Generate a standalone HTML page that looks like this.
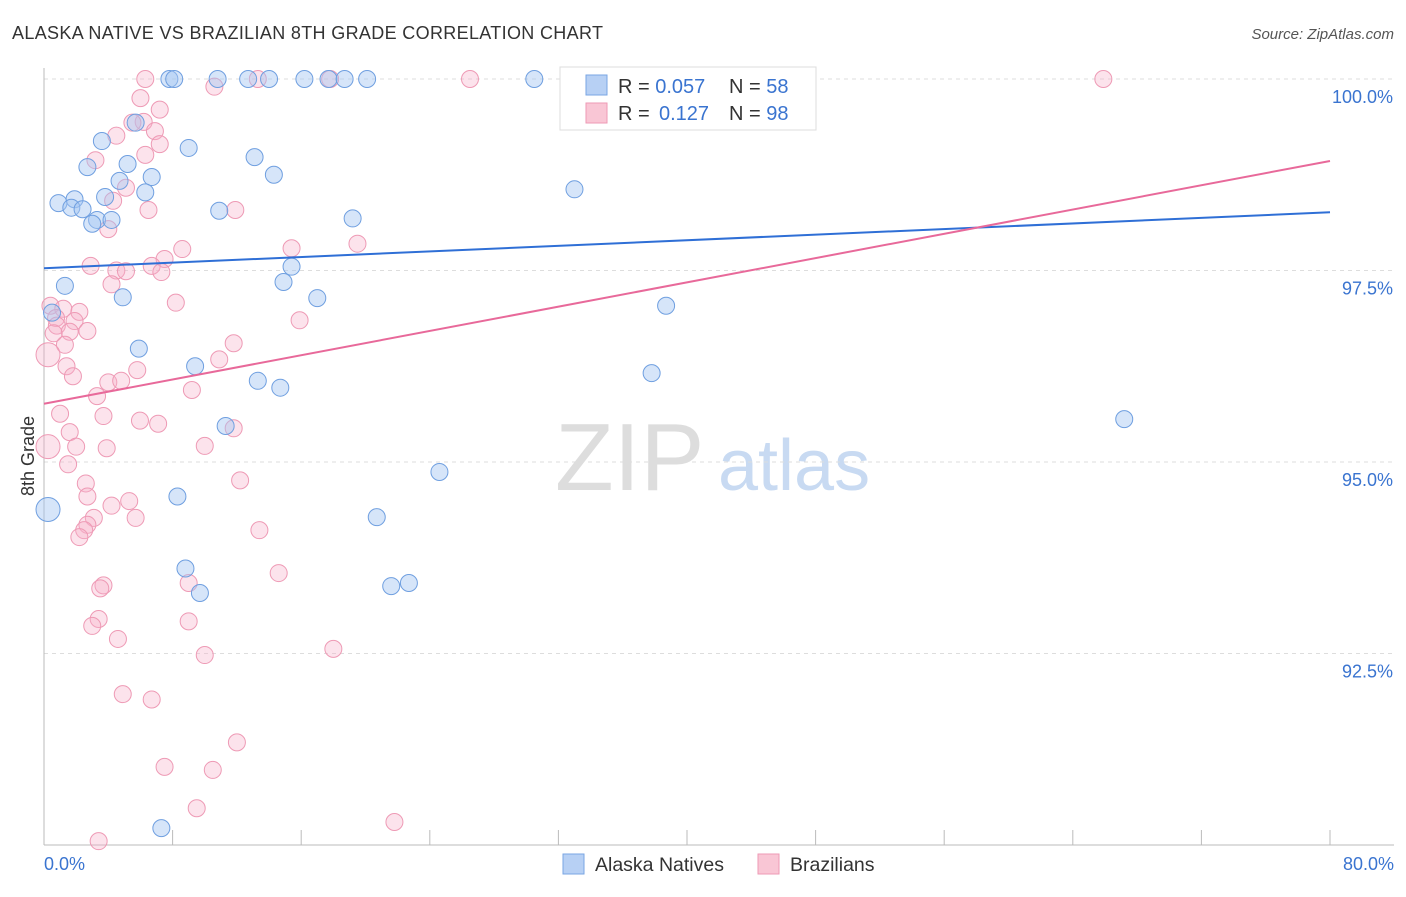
<!DOCTYPE html>
<html><head><meta charset="utf-8"><style>
body{margin:0;background:#fff;font-family:"Liberation Sans",sans-serif}
svg text{font-family:"Liberation Sans",sans-serif}
</style></head><body>
<svg id="c" width="1406" height="892" xmlns="http://www.w3.org/2000/svg">
<text x="12" y="39" font-size="18" fill="#333" textLength="591">ALASKA NATIVE VS BRAZILIAN 8TH GRADE CORRELATION CHART</text>
<text x="1394" y="39" font-size="15" fill="#555" font-style="italic" text-anchor="end">Source: ZipAtlas.com</text>
<text x="34" y="456" font-size="18" fill="#333" transform="rotate(-90 34 456)" text-anchor="middle">8th Grade</text>
<text x="555" y="490" font-size="96" fill="#ddd" font-family="Liberation Serif">ZIP</text>
<text x="718" y="490" font-size="72" fill="#c8daf2">atlas</text>
<g id="grid"></g><g id="marks"></g><g id="trends"></g>
<g>
<rect x="560" y="67" width="256" height="63" fill="#fff" stroke="#ddd"/>
<rect x="586" y="75" width="21" height="20" fill="#b7d0f4" stroke="#7aa6e3"/>
<rect x="586" y="103" width="21" height="20" fill="#f9c6d5" stroke="#ee9ab5"/>
<text x="618" y="93" font-size="20" fill="#333">R = <tspan fill="#3a74d0">0.057</tspan><tspan x="729">N = </tspan><tspan fill="#3a74d0">58</tspan></text>
<text x="618" y="120" font-size="20" fill="#333">R = <tspan x="659" fill="#3a74d0">0.127</tspan><tspan x="729">N = </tspan><tspan fill="#3a74d0">98</tspan></text>
</g>
<g>
<rect x="563" y="854" width="21" height="20" fill="#b7d0f4" stroke="#7aa6e3"/>
<text x="595" y="871" font-size="19.5" fill="#333">Alaska Natives</text>
<rect x="758" y="854" width="21" height="20" fill="#f9c6d5" stroke="#ee9ab5"/>
<text x="790" y="871" font-size="19.5" fill="#333">Brazilians</text>
</g>
</svg>
<script>
const yTicks=[100,97.5,95,92.5];
const yTickLabels=["100.0%","97.5%","95.0%","92.5%"];
const xTickLabels=["0.0%","80.0%"];
const blueX=[7.8,8.1,10.8,12.7,14.0,16.2,17.7,18.7,20.1,30.5,41.6,45.0,3.6,5.7,9.0,13.1,2.7,5.2,6.7,4.7,6.3,3.8,1.9,0.9,1.7,2.4,3.3,4.2,3.0,10.9,14.3,19.2,33.0,15.4,14.9,17.0,1.3,4.9,0.5,5.9,9.4,13.3,14.7,11.3,38.7,37.8,67.2,24.6,8.3,0.25,20.7,8.8,9.7,21.6,22.7,7.3];
const blueY=[100,100,100,100,100,100,100,100,100,100,100,100,99.19,99.43,99.1,98.98,98.85,98.89,98.72,98.67,98.52,98.46,98.43,98.38,98.32,98.30,98.16,98.16,98.11,98.28,98.75,98.18,98.56,97.55,97.35,97.14,97.3,97.15,96.95,96.48,96.25,96.06,95.97,95.47,97.04,96.16,95.56,94.87,94.55,94.38,94.28,93.61,93.29,93.38,93.42,90.22];
const pinkX=[6.3,13.3,17.8,26.5,65.9,10.6,6.0,7.2,6.2,5.5,6.9,4.5,7.2,6.3,3.2,5.1,4.3,6.5,11.9,4.0,8.6,15.4,19.5,7.5,2.9,6.7,4.5,5.1,7.3,4.2,8.2,0.4,1.2,2.2,0.75,1.9,15.9,0.8,2.7,1.6,0.6,1.3,11.8,0.25,1.4,5.8,10.9,1.8,4.0,4.8,3.3,9.2,1.0,3.7,5.97,7.1,11.8,1.6,0.25,2.0,3.9,10.0,1.5,12.2,2.6,2.7,5.3,4.2,3.1,5.7,2.7,2.5,13.4,2.2,14.6,9.0,3.7,3.5,3.4,3.0,9.0,4.6,18.0,10.0,4.9,6.7,12.0,7.5,10.5,9.5,21.8,3.4];
const pinkY=[100,100,100,100,100,99.9,99.75,99.6,99.44,99.43,99.32,99.26,99.15,99.01,98.94,98.58,98.41,98.29,98.29,98.04,97.78,97.79,97.85,97.65,97.56,97.56,97.5,97.49,97.48,97.32,97.08,97.04,97.0,96.96,96.88,96.84,96.85,96.78,96.71,96.7,96.68,96.53,96.55,96.4,96.25,96.2,96.34,96.12,96.04,96.06,95.86,95.94,95.63,95.6,95.54,95.5,95.44,95.39,95.2,95.2,95.18,95.21,94.97,94.76,94.72,94.55,94.49,94.43,94.27,94.27,94.18,94.11,94.11,94.02,93.55,93.42,93.39,93.35,92.95,92.86,92.92,92.69,92.56,92.48,91.97,91.9,91.34,91.02,90.98,90.48,90.3,90.05];
const blueTrend=[97.53,98.26];
const pinkTrend=[95.76,98.93];
const NS="http://www.w3.org/2000/svg";
const X0=44,X1=1330,Y100=79,PXPER=76.6;
function sx(v){return X0+(v/80)*(X1-X0);}
function sy(v){return Y100+(100-v)*PXPER;}
function mk(tag,attrs,parent){const e=document.createElementNS(NS,tag);for(const k in attrs)e.setAttribute(k,attrs[k]);parent.appendChild(e);return e;}
const grid=document.getElementById('grid');
yTicks.forEach((t,i)=>{
 const l=mk('line',{x1:X0,x2:1394,y1:sy(t),y2:sy(t),stroke:'#ddd','stroke-dasharray':'4,4'},grid);
 
 
 const tx=mk('text',{x:1393,y:sy(t)+24,'font-size':18,fill:'#3a74d0','text-anchor':'end'},grid);
 tx.textContent=yTickLabels[i];
 
 
});
const ya=mk('line',{x1:X0,x2:X0,y1:68,y2:845,stroke:'#bbb'},grid);


const xa=mk('line',{x1:X0,x2:1394,y1:845,y2:845,stroke:'#bbb'},grid);


for(let i=0;i<=10;i++){const v=i*8;const t=mk('line',{x1:sx(v),x2:sx(v),y1:830,y2:845,stroke:'#bbb'},grid);
 
 }
[[0,'start',44],[80,'end',1394]].forEach((d,i)=>{const t=mk('text',{x:d[2],y:870,'font-size':18,fill:'#3a74d0','text-anchor':d[1]},grid);t.textContent=xTickLabels[i];
 
 });
const marks=document.getElementById('marks');
function pts(xs,ys,fill,stroke,name){xs.forEach((x,i)=>{const r=(x<=0.25)?12:8.5;
 const c=mk('circle',{cx:sx(x),cy:sy(ys[i]),r:r,fill:fill,stroke:stroke,'stroke-width':1},marks);
 
 });}
pts(pinkX,pinkY,'rgba(246,176,200,0.35)','#ee9ab5','brazilian-point');
pts(blueX,blueY,'rgba(164,198,242,0.45)','#6f9fe0','alaska-native-point');
const tr=document.getElementById('trends');
const bl=mk('line',{x1:sx(0),x2:sx(80),y1:sy(blueTrend[0]),y2:sy(blueTrend[1]),stroke:'#2f6fd6','stroke-width':2},tr);


const pl=mk('line',{x1:sx(0),x2:sx(80),y1:sy(pinkTrend[0]),y2:sy(pinkTrend[1]),stroke:'#e8699a','stroke-width':2},tr);


</script>
</body></html>
